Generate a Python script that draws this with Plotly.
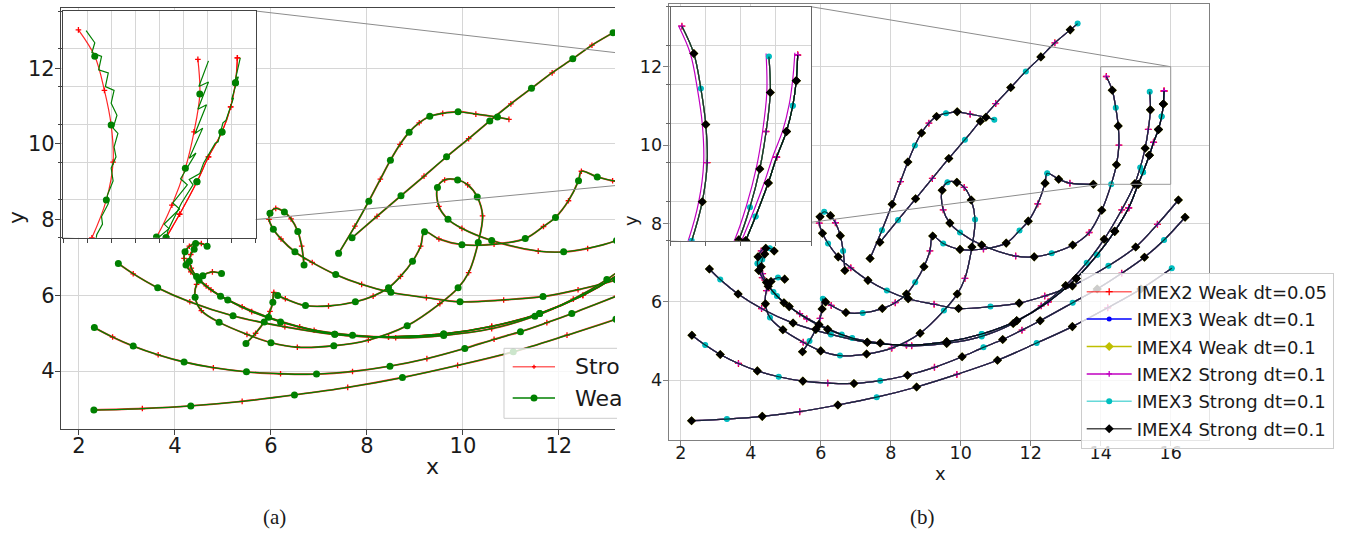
import plotly.graph_objects as go

W, H = 1356, 533

# ---------------- trajectory data (shared by all schemes) ----------------
x_A = [2.31, 3.32, 4.33, 5.40, 6.49, 7.60, 8.74, 9.89, 11.05, 12.17, 13.19, 14.20, 15.15, 16.03]
y_A = [2.97, 3.01, 3.08, 3.20, 3.37, 3.57, 3.83, 4.15, 4.51, 4.95, 5.37, 5.85, 6.33, 6.86]

x_B = [2.32, 2.70, 3.13, 3.65, 4.19, 4.80, 5.49, 6.20, 6.95, 7.70, 8.48, 9.25, 10.04, 10.65, 11.20, 11.75, 12.27, 13.20, 13.90, 14.60, 15.25, 15.81, 16.41]
y_B = [5.15, 4.90, 4.66, 4.43, 4.24, 4.09, 3.98, 3.93, 3.92, 3.99, 4.13, 4.33, 4.60, 4.84, 5.04, 5.28, 5.52, 5.98, 6.33, 6.73, 7.14, 7.58, 8.16]

x_C = [2.82, 3.13, 3.64, 4.31, 5.21, 6.29, 7.33, 8.45, 9.60, 10.60, 11.60, 12.50, 13.30, 13.90, 14.40, 14.80, 15.07, 15.21, 15.39, 15.51, 15.65, 15.74, 15.79, 15.81]
y_C = [6.84, 6.57, 6.20, 5.83, 5.46, 5.17, 4.97, 4.90, 4.98, 5.18, 5.52, 6.00, 6.60, 7.20, 7.80, 8.40, 9.00, 9.31, 9.74, 10.07, 10.40, 10.73, 11.05, 11.38]

x_H1 = [4.67, 4.55, 4.43, 4.30, 4.21, 4.19, 4.23, 4.33, 4.50, 4.75, 5.10, 5.60, 6.20, 6.90, 7.70, 8.60, 9.60, 10.60, 11.50, 12.30, 13.00, 13.60, 14.10, 14.60, 14.97, 15.13, 15.27, 15.36, 15.42, 15.40]
y_H1 = [7.30, 7.37, 7.37, 7.30, 7.15, 6.98, 6.80, 6.62, 6.40, 6.15, 5.88, 5.57, 5.30, 5.08, 4.95, 4.88, 4.94, 5.12, 5.45, 5.90, 6.42, 7.00, 7.60, 8.35, 9.01, 9.43, 9.92, 10.40, 10.90, 11.36]

x_H2 = [4.40, 4.33, 4.30, 4.34, 4.45, 4.65, 4.95, 5.40, 5.95, 6.60]
y_H2 = [7.22, 7.08, 6.90, 6.72, 6.50, 6.25, 5.98, 5.70, 5.42, 5.17]

x_G = [4.97, 4.78, 4.58, 4.45, 4.42, 4.55, 4.92, 5.50, 6.00, 6.55, 7.31, 8.03, 8.84, 9.52, 9.90, 10.12, 10.32, 10.41, 10.30, 10.10, 9.89, 9.62, 9.47, 9.50, 9.69, 9.98, 10.60, 11.57, 12.10, 12.60, 13.20, 13.67, 14.03, 14.30, 14.45, 14.52, 14.50, 14.43, 14.33, 14.16]
y_G = [6.58, 6.62, 6.52, 6.29, 5.95, 5.60, 5.29, 4.97, 4.75, 4.63, 4.67, 4.82, 5.20, 5.78, 6.20, 6.60, 7.40, 8.10, 8.60, 8.92, 9.05, 9.05, 8.85, 8.35, 8.01, 7.77, 7.45, 7.17, 7.15, 7.24, 7.45, 7.77, 8.34, 9.00, 9.50, 10.00, 10.49, 10.95, 11.40, 11.75]

x_K = [6.69, 6.64, 6.56, 6.42, 6.28, 6.10, 5.98, 5.96, 6.05, 6.21, 6.50, 6.86, 7.35, 7.89, 8.50, 9.24, 9.94, 10.85, 11.67, 12.40, 13.19, 14.22, 15.00, 15.62, 16.22]
y_K = [6.80, 7.30, 7.69, 8.02, 8.20, 8.30, 8.17, 8.01, 7.75, 7.49, 7.15, 6.87, 6.55, 6.29, 6.08, 5.94, 5.83, 5.88, 5.97, 6.15, 6.41, 6.92, 7.40, 7.98, 8.60]

x_F = [5.48, 5.68, 5.86, 5.98, 6.04, 6.06, 6.14, 6.30, 6.72, 7.20, 7.76, 8.13, 8.45, 8.70, 8.95, 9.12, 9.20, 9.50, 9.98, 10.65, 11.30, 11.68, 11.93, 12.20, 12.41, 12.47, 12.80, 13.12, 13.79]
y_F = [4.73, 5.00, 5.30, 5.58, 5.82, 6.08, 6.00, 5.91, 5.73, 5.72, 5.83, 5.98, 6.20, 6.50, 6.90, 7.30, 7.68, 7.49, 7.34, 7.35, 7.50, 7.82, 8.06, 8.50, 9.03, 9.28, 9.13, 9.03, 9.00]

x_R = [7.41, 7.75, 8.04, 8.28, 8.49, 8.69, 8.88, 9.09, 9.31, 9.58, 9.90, 10.27, 10.72, 10.96]
y_R = [7.11, 7.83, 8.49, 9.07, 9.57, 9.99, 10.31, 10.56, 10.73, 10.81, 10.85, 10.79, 10.71, 10.65]

x_D = [7.69, 8.21, 8.71, 9.19, 9.66, 10.12, 10.56, 11.00, 11.43, 11.86, 12.29, 12.69, 13.13, 13.34]
y_D = [7.52, 8.09, 8.63, 9.15, 9.66, 10.14, 10.61, 11.06, 11.47, 11.88, 12.25, 12.61, 12.94, 13.10]

# weak-scheme zig-zag seen in the left zoom window
gz_G_x = [14.24, 14.33, 14.30, 14.40, 14.37, 14.47, 14.44, 14.53, 14.50, 14.56, 14.52, 14.57, 14.53, 14.55, 14.50, 14.52, 14.46, 14.47, 14.40, 14.41, 14.35, 14.34]
gz_G_y = [11.74, 11.58, 11.45, 11.40, 11.22, 11.18, 11.00, 10.95, 10.78, 10.62, 10.45, 10.38, 10.20, 10.07, 9.92, 9.75, 9.56, 9.45, 9.28, 9.18, 9.04, 8.95]
gz_M_x = [15.51, 15.41, 15.51, 15.40, 15.49, 15.37, 15.45, 15.31, 15.38, 15.22, 15.29, 15.14, 15.21, 15.05, 15.10, 14.97, 14.99]
gz_M_y = [11.34, 11.00, 11.06, 10.70, 10.76, 10.38, 10.45, 10.05, 10.12, 9.78, 9.70, 9.46, 9.38, 9.18, 9.12, 8.98, 8.93]
gz_R_x = [15.84, 15.79, 15.82, 15.75, 15.77, 15.69, 15.66, 15.61, 15.58, 15.50, 15.46, 15.42, 15.31, 15.35, 15.23, 15.16, 15.09, 15.07]
gz_R_y = [11.38, 11.10, 11.13, 10.83, 10.85, 10.55, 10.52, 10.27, 10.25, 10.07, 9.99, 9.85, 9.77, 9.70, 9.46, 9.28, 9.10, 8.98]

# IMEX2 strong path as seen in the right zoom window
mz_G_x = [13.99, 14.25, 14.40, 14.47, 14.45, 14.38, 14.28, 14.11]
mz_G_y = [8.40, 9.00, 9.50, 10.00, 10.50, 10.95, 11.40, 11.76]
mz_M_x = [14.55, 14.92, 15.08, 15.22, 15.31, 15.37, 15.36]
mz_M_y = [8.37, 9.03, 9.45, 9.93, 10.40, 10.90, 11.40]
mz_R_x = [14.75, 15.02, 15.16, 15.34, 15.46, 15.60, 15.69, 15.74, 15.77]
mz_R_y = [8.42, 9.02, 9.33, 9.76, 10.09, 10.42, 10.75, 11.07, 11.41]

x_ticks_left = [2, 4, 6, 8, 10, 12]
x_ticks_right = [2, 4, 6, 8, 10, 12, 14, 16]
y_ticks = [4, 6, 8, 10, 12]

legend_left = ["Stro", "Wea"]
legend_right = ["IMEX2 Weak dt=0.05", "IMEX3 Weak dt=0.1", "IMEX4 Weak dt=0.1",
                "IMEX2 Strong dt=0.1", "IMEX3 Strong dt=0.1", "IMEX4 Strong dt=0.1"]

TRAJ = [(x_A, y_A), (x_B, y_B), (x_C, y_C), (x_H1, y_H1),
        (x_H2 + x_C[6:], y_H2 + y_C[6:]), (x_G, y_G), (x_K, y_K),
        (x_F, y_F), (x_R, y_R), (x_D, y_D)]


def join(trajs):
    xs, ys = [], []
    for tx, ty in trajs:
        xs += list(tx) + [None]
        ys += list(ty) + [None]
    return xs, ys


def pick(trajs, mod, phase):
    xs, ys = [], []
    for tx, ty in trajs:
        for i, (a, b) in enumerate(zip(tx, ty)):
            if i % mod == phase:
                xs.append(a)
                ys.append(b)
    return xs, ys


# ---------------- layout geometry (pixels -> paper) ----------------
def px(v):
    return v / W


def py(v):
    return 1 - v / H


L_dom_x = [px(61), px(615)]
L_dom_y = [py(429.3), py(7.5)]
L_rx = [1.625, 13.17]
L_ry = [2.462, 13.606]
LI_dom_x = [px(63), px(255.7)]
LI_dom_y = [py(237.7), py(11)]
R_dom_x = [px(668.7), px(1209)]
R_dom_y = [py(440), py(4)]
R_rx = [1.657, 17.094]
R_ry = [2.477, 13.6]
RI_dom_x = [px(670.7), px(811)]
RI_dom_y = [py(240.7), py(6.7)]
ZX = [14, 16]
ZY = [9, 12]

FONT = "DejaVu Sans"
fig = go.Figure()

alljx, alljy = join(TRAJ)

# ---------------- left panel (a) ----------------
for ax, ay in (("x", "y"), ("x3", "y3")):
    inset = ax == "x3"
    fig.add_trace(go.Scatter(x=alljx, y=alljy, mode="lines", xaxis=ax, yaxis=ay,
                             line=dict(color="rgba(255,0,0,0.85)", width=1.2 if inset else 1.9,
                                       shape="spline", smoothing=1),
                             showlegend=False, hoverinfo="skip"))
    mx, my = pick(TRAJ, 2, 1)
    fig.add_trace(go.Scatter(x=mx, y=my, mode="markers", xaxis=ax, yaxis=ay,
                             marker=dict(symbol="cross-thin", size=4, line=dict(width=1.3, color="red")),
                             showlegend=False, hoverinfo="skip"))
    if not inset:
        fig.add_trace(go.Scatter(x=alljx, y=alljy, mode="lines", xaxis=ax, yaxis=ay,
                                 line=dict(color="#008000", width=1.3, shape="spline", smoothing=1),
                                 showlegend=False, hoverinfo="skip"))
    else:
        zx, zy = join([(gz_G_x, gz_G_y), (gz_M_x, gz_M_y), (gz_R_x, gz_R_y)])
        fig.add_trace(go.Scatter(x=zx, y=zy, mode="lines", xaxis=ax, yaxis=ay,
                                 line=dict(color="#008000", width=1.2),
                                 showlegend=False, hoverinfo="skip"))
    mx, my = pick(TRAJ, 2, 0)
    fig.add_trace(go.Scatter(x=mx, y=my, mode="markers", xaxis=ax, yaxis=ay,
                             marker=dict(symbol="circle", size=7, color="#008000"),
                             showlegend=False, hoverinfo="skip"))

# ---------------- right panel (b) ----------------
methods = [
    dict(name=legend_right[0], lc="rgba(255,0,0,0.6)", mc="red", sym="cross-thin", ms=5, mod=4, phase=3),
    dict(name=legend_right[1], lc="#0000ff", mc="#0000ff", sym="circle", ms=5, mod=4, phase=1),
    dict(name=legend_right[2], lc="#bfbf00", mc="#bfbf00", sym="diamond", ms=7, mod=2, phase=0),
    dict(name=legend_right[3], lc="#c000c0", mc="#c000c0", sym="cross-thin", ms=4, mod=4, phase=3),
    dict(name=legend_right[4], lc="rgba(0,191,191,0.6)", mc="#00bfbf", sym="circle", ms=6, mod=4, phase=1),
    dict(name=legend_right[5], lc="rgba(0,0,0,0.7)", mc="black", sym="diamond", ms=7, mod=2, phase=0),
]


def mk(m):
    if m["sym"] == "cross-thin":
        return dict(symbol="cross-thin", size=m["ms"], line=dict(width=1.3, color=m["mc"]))
    return dict(symbol=m["sym"], size=m["ms"], color=m["mc"])


for ax, ay in (("x2", "y2"), ("x4", "y4")):
    for m in methods:
        if ax == "x4" and m["name"] == legend_right[3]:
            lx, ly = join([(mz_G_x, mz_G_y), (mz_M_x, mz_M_y), (mz_R_x, mz_R_y)])
        else:
            lx, ly = alljx, alljy
        fig.add_trace(go.Scatter(x=lx, y=ly, mode="lines", xaxis=ax, yaxis=ay,
                                 line=dict(color=m["lc"], width=1.2, shape="spline", smoothing=1),
                                 showlegend=False, hoverinfo="skip"))
        mx, my = pick(TRAJ, m["mod"], m["phase"])
        fig.add_trace(go.Scatter(x=mx, y=my, mode="markers", xaxis=ax, yaxis=ay,
                                 marker=mk(m), showlegend=False, hoverinfo="skip"))

for k, m in enumerate(methods):
    fig.add_trace(go.Scatter(x=[None], y=[None], mode="lines+markers", xaxis="x2", yaxis="y2",
                             name=m["name"], legendgroup="g%d" % k,
                             line=dict(color=m["lc"], width=1.5), marker=mk(m)))


# ---------------- zoom connectors ----------------
def corner(dx, dy, rx, ry, fx, fy):
    xx = rx[0] + (fx - dx[0]) / (dx[1] - dx[0]) * (rx[1] - rx[0])
    yy = ry[0] + (fy - dy[0]) / (dy[1] - dy[0]) * (ry[1] - ry[0])
    return xx, yy


for (dx, dy, rx, ry, idx, idy, ax, ay) in (
        (L_dom_x, L_dom_y, L_rx, L_ry, LI_dom_x, LI_dom_y, "x", "y"),
        (R_dom_x, R_dom_y, R_rx, R_ry, RI_dom_x, RI_dom_y, "x2", "y2")):
    ur = corner(dx, dy, rx, ry, idx[1], idy[1])
    ll = corner(dx, dy, rx, ry, idx[0], idy[0])
    fig.add_trace(go.Scatter(x=[ur[0], ZX[1], None, ll[0], ZX[0]],
                             y=[ur[1], ZY[1], None, ll[1], ZY[0]],
                             mode="lines", xaxis=ax, yaxis=ay,
                             line=dict(color="#8c8c8c", width=1),
                             showlegend=False, hoverinfo="skip"))

fig.add_shape(type="rect", xref="x2", yref="y2", x0=ZX[0], x1=ZX[1], y0=ZY[0], y1=ZY[1],
              line=dict(color="#9a9a9a", width=1), layer="above")

# ---------------- axes ----------------
GRID = "#d6d6d6"
tickfont_l = dict(family=FONT, size=21, color="#1a1a1a")
tickfont_r = dict(family=FONT, size=17.5, color="#1a1a1a")
common = dict(showgrid=True, gridcolor=GRID, gridwidth=1, zeroline=False, showline=True,
              ticks="outside", automargin=False)

fig.update_layout(
    xaxis=dict(domain=L_dom_x, range=L_rx, tickvals=x_ticks_left, tickfont=tickfont_l,
               linecolor="#444", tickcolor="#444", linewidth=1.2, ticklen=5, mirror=True,
               ticklabelstandoff=-8, anchor="y", **common),
    yaxis=dict(domain=L_dom_y, range=L_ry, tickvals=y_ticks, tickfont=tickfont_l,
               linecolor="#444", tickcolor="#444", linewidth=1.2, ticklen=5, mirror=False,
               ticklabelstandoff=-4, anchor="x", **common),
    xaxis2=dict(domain=R_dom_x, range=R_rx, tickvals=x_ticks_right, tickfont=tickfont_r,
                linecolor="#808080", tickcolor="#808080", linewidth=1.2, ticklen=5, mirror=True,
                ticklabelstandoff=-8, anchor="y2", **common),
    yaxis2=dict(domain=R_dom_y, range=R_ry, tickvals=y_ticks, tickfont=tickfont_r,
                linecolor="#808080", tickcolor="#808080", linewidth=1.2, ticklen=5, mirror=True,
                ticklabelstandoff=-3, anchor="x2", **common),
    xaxis3=dict(domain=LI_dom_x, range=ZX, dtick=0.25, tick0=14, showticklabels=False,
                linecolor="#444", tickcolor="#444", linewidth=1.2, ticklen=4, mirror=True,
                anchor="y3", **common),
    yaxis3=dict(domain=LI_dom_y, range=ZY, dtick=0.5, tick0=9, showticklabels=False,
                linecolor="#444", tickcolor="#444", linewidth=1.2, ticklen=4, mirror=True,
                anchor="x3", **common),
    xaxis4=dict(domain=RI_dom_x, range=ZX, dtick=0.5, tick0=14, showticklabels=False,
                linecolor="#666", tickcolor="#666", linewidth=1.2, ticklen=4, mirror=True,
                anchor="y4", **common),
    yaxis4=dict(domain=RI_dom_y, range=ZY, dtick=0.5, tick0=9, showticklabels=False,
                linecolor="#666", tickcolor="#666", linewidth=1.2, ticklen=4, mirror=True,
                anchor="x4", **common),
)

# ---------------- legends ----------------
fig.update_layout(
    showlegend=True,
    legend=dict(x=px(1080.7), y=py(272.5), xanchor="left", yanchor="top",
                bgcolor="rgba(255,255,255,0.8)", bordercolor="#cccccc", borderwidth=1,
                font=dict(family=FONT, size=18, color="#1a1a1a"),
                traceorder="grouped", tracegroupgap=1, itemwidth=45),
)

# left panel legend (cropped in the reference)
lx0, lx1, ly0, ly1 = px(504), px(617), py(418.3), py(348.3)
fig.add_shape(type="rect", xref="paper", yref="paper", x0=lx0, x1=lx1, y0=ly0, y1=ly1,
              fillcolor="rgba(255,255,255,0.8)", line=dict(width=0), layer="above")
fig.add_shape(type="path", xref="paper", yref="paper",
              path="M %f,%f L %f,%f L %f,%f L %f,%f" % (lx1, ly1, lx0, ly1, lx0, ly0, lx1, ly0),
              line=dict(color="#cccccc", width=1), layer="above")
fig.add_shape(type="line", xref="paper", yref="paper", x0=px(512.7), x1=px(555),
              y0=py(366.7), y1=py(366.7), line=dict(color="rgba(255,0,0,0.6)", width=1.6), layer="above")
fig.add_shape(type="line", xref="paper", yref="paper", x0=px(512.7), x1=px(555),
              y0=py(398), y1=py(398), line=dict(color="#008000", width=1.6), layer="above")
fig.add_shape(type="line", xref="paper", yref="paper", x0=px(534), x1=px(534),
              y0=py(364.7), y1=py(368.7), line=dict(color="red", width=1.3), layer="above")
fig.add_shape(type="line", xref="paper", yref="paper", x0=px(532), x1=px(536),
              y0=py(366.7), y1=py(366.7), line=dict(color="red", width=1.3), layer="above")
fig.add_shape(type="circle", xref="paper", yref="paper", x0=px(530.5), x1=px(537.5),
              y0=py(401.5), y1=py(394.5), fillcolor="#008000", line=dict(width=0), layer="above")


def note(text, x, y, size, family=FONT, angle=0):
    fig.add_annotation(text=text, x=px(x), y=py(y), xref="paper", yref="paper", showarrow=False,
                       xanchor="center", yanchor="middle", textangle=angle,
                       font=dict(family=family, size=size, color="#1a1a1a"))


fig.add_annotation(text=legend_left[0], x=px(572.7), y=py(366.7), xref="paper", yref="paper",
                   showarrow=False, xanchor="left", yanchor="middle",
                   font=dict(family=FONT, size=22, color="#1a1a1a"))
fig.add_annotation(text=legend_left[1], x=px(572.7), y=py(398), xref="paper", yref="paper",
                   showarrow=False, xanchor="left", yanchor="middle",
                   font=dict(family=FONT, size=22, color="#1a1a1a"))

# axis titles
note("x", 432, 466, 22)
note("y", 16, 218, 22, angle=-90)
note("x", 940, 473, 18)
note("y", 631, 221, 18, angle=-90)

# captions
note("(a)", 274, 517, 21, family="Liberation Serif")
note("(b)", 922, 517, 21, family="Liberation Serif")

fig.update_layout(width=W, height=H, autosize=False, template="none",
                  margin=dict(l=0, r=0, t=0, b=0, pad=0),
                  paper_bgcolor="white", plot_bgcolor="white",
                  font=dict(family=FONT))

fig.write_html("out.html", config={"displayModeBar": False},
               post_script="document.body.style.margin='0';")
